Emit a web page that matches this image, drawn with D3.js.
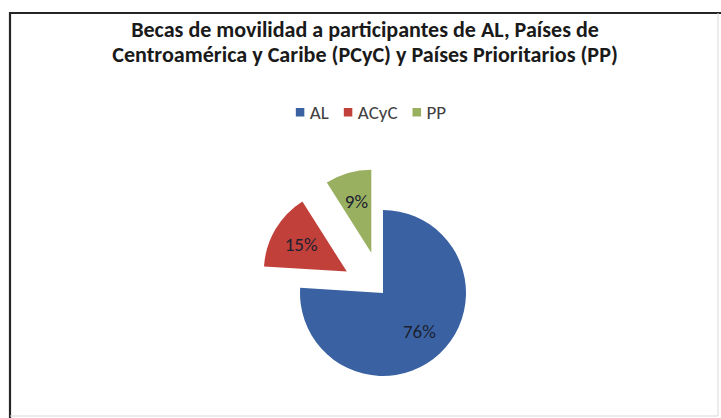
<!DOCTYPE html>
<html><head><meta charset="utf-8">
<script src="https://cdn.jsdelivr.net/npm/d3@7"></script>
<style>html,body{margin:0;padding:0;background:#fff;}svg{display:block;}</style>
</head><body>
<script>
const categories = ["AL", "ACyC", "PP"];
const values = [76, 15, 9];
const labels = ["76%", "15%", "9%"];
const colors = ["#3A62A2", "#C2403A", "#99B061"];
const exploded = [false, true, true];
const titleLines = ["Becas de movilidad a participantes de AL, Países de",
                    "Centroamérica y Caribe (PCyC) y Países Prioritarios (PP)"];

const W = 721, H = 418;
const svg = d3.select("body").append("svg").attr("width", W).attr("height", H);
const FONT = "Carlito, Lato, 'Open Sans', sans-serif";

// frame
svg.append("line").attr("x1", 10).attr("y1", 13).attr("x2", 721).attr("y2", 13).attr("stroke", "#262626").attr("stroke-width", 2.2);
svg.append("line").attr("x1", 10).attr("y1", 12).attr("x2", 10).attr("y2", 418).attr("stroke", "#262626").attr("stroke-width", 2.2);
svg.append("line").attr("x1", 718).attr("y1", 13).attr("x2", 718).attr("y2", 416).attr("stroke", "#d8d8d8").attr("stroke-width", 1);
svg.append("line").attr("x1", 10).attr("y1", 416).attr("x2", 718).attr("y2", 416).attr("stroke", "#d8d8d8").attr("stroke-width", 1);

// title
const titleTargets = [468, 506];
const titleY = [37, 62];
titleLines.forEach((t, i) => {
  const el = svg.append("text").attr("x", 365).attr("y", titleY[i])
    .attr("text-anchor", "middle").attr("font-family", FONT).attr("font-weight", "bold")
    .attr("font-size", 16).attr("fill", "#1a1a1a").text(t);
  const w = el.node().getComputedTextLength();
  el.attr("font-size", 16 * titleTargets[i] / w);
});

// legend
const legendY = 112;
const lg = svg.append("g");
const items = lg.selectAll("g").data(categories).join("g");
let xCursor = 0;
items.each(function(d, i) {
  const g = d3.select(this);
  g.append("rect").attr("x", 0).attr("y", -4).attr("width", 8.5).attr("height", 8.5).attr("fill", colors[i]);
  const t = g.append("text").attr("x", 14).attr("y", 6.5).attr("font-family", FONT)
    .attr("font-size", 19).attr("fill", "#404040").text(d);
  const w = t.node().getComputedTextLength();
  g.attr("transform", `translate(${xCursor},0)`);
  xCursor += 14 + w + 15;
});
const totalW = xCursor - 15;
lg.attr("transform", `translate(${371 - totalW / 2},${legendY})`);

// pie
const cx = 383, cy = 293, r = 83, explode = 42;
const pie = d3.pie().sort(null).value(d => d)(values);
const arc = d3.arc().innerRadius(0).outerRadius(r);
const labelArc = d3.arc().innerRadius(r * 0.64).outerRadius(r * 0.64);
const pg = svg.append("g").attr("transform", `translate(${cx},${cy})`);
const slices = pg.selectAll("g.slice").data(pie).join("g").attr("class", "slice")
  .attr("transform", (d, i) => {
    if (!exploded[i]) return null;
    const a = (d.startAngle + d.endAngle) / 2;
    return `translate(${Math.sin(a) * explode},${-Math.cos(a) * explode})`;
  });
slices.append("path").attr("d", arc).attr("fill", (d, i) => colors[i]);
slices.append("text").attr("transform", d => `translate(${labelArc.centroid(d)})`)
  .attr("text-anchor", "middle").attr("dy", "0.35em")
  .attr("font-family", FONT).attr("font-size", 19).attr("fill", "#1c2130")
  .text((d, i) => labels[i]);
</script>
</body></html>
